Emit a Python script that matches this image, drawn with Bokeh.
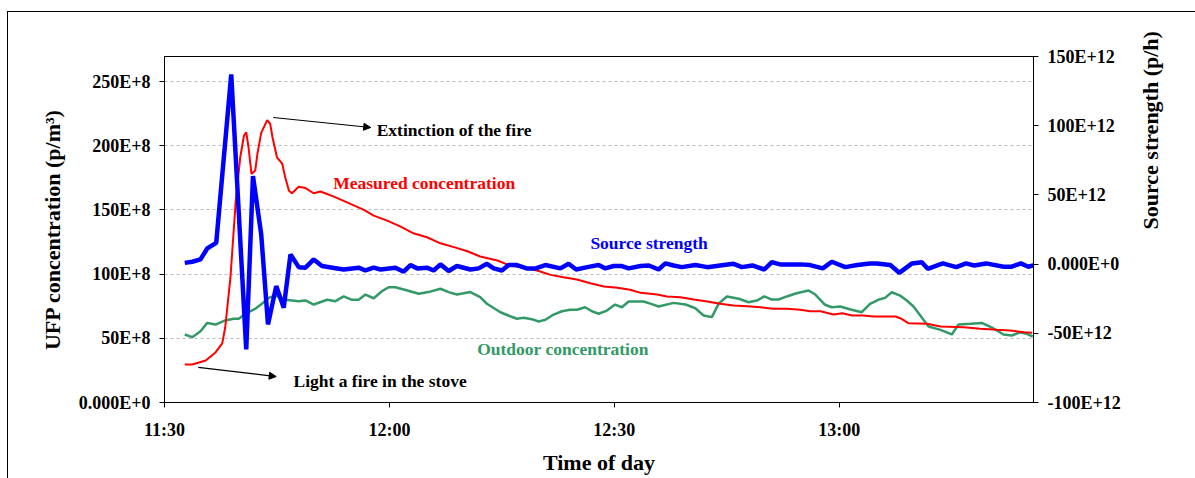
import math
from bokeh.plotting import figure
from bokeh.models import (Range1d, LinearAxis, FixedTicker, Label, Arrow,
                          NormalHead, InlineStyleSheet)
from bokeh.embed import file_html
from bokeh.resources import INLINE

FONT = "Liberation Serif"

# time in minutes after 11:30
measured_t = [2.7, 3.7, 5.5, 6.8, 7.7, 8.1, 8.8, 9.5, 10.1, 10.6, 10.9, 11.2, 11.6,
              12.1, 12.4, 12.9, 13.7, 14.1, 14.4, 15.0, 15.7, 16.1, 16.6, 17.0, 17.9,
              18.8, 19.9, 20.8, 22.6, 24.8, 26.6, 27.9, 29.7, 31.5, 33.2, 35.0, 36.8,
              38.6, 40.4, 42.1, 44.4, 46.1, 47.9, 49.7, 51.5, 53.2, 55.0, 56.8, 58.6,
              60.4, 62.1, 63.5, 65.7, 67.0, 68.8, 70.6, 72.4, 74.1, 75.9, 77.7, 79.5,
              81.2, 83.0, 84.8, 86.1, 87.5, 89.2, 90.4, 91.7, 93.2, 94.6, 97.5, 98.3,
              99.2, 101.7, 103.5, 106.6, 108.8, 111.0, 112.8, 114.6, 115.7]
# UFP measured concentration (E+8 p/m3)
measured_v = [29.6, 29.6, 32.7, 39.0, 46.0, 58.6, 97.6, 157.0, 191.0, 208.0, 210.5,
              199.0, 178.0, 180.7, 194.0, 210.0, 220.0, 217.0, 206.6, 191.0, 186.0,
              175.5, 165.0, 163.0, 168.0, 167.0, 163.0, 164.3, 160.4, 154.7, 150.0,
              145.6, 141.7, 137.0, 131.8, 128.7, 124.0, 121.0, 117.8, 113.7, 110.6,
              106.7, 105.0, 102.8, 99.4, 97.6, 95.8, 92.9, 90.3, 89.3, 87.8, 85.4,
              84.1, 82.6, 82.0, 80.2, 78.7, 76.9, 75.6, 75.0, 74.2, 73.0, 73.0, 72.2,
              71.1, 71.1, 68.5, 69.5, 67.8, 67.8, 67.0, 67.0, 65.2, 61.8, 61.3, 59.2,
              58.7, 57.4, 56.6, 56.0, 54.7, 54.3]

outdoor_t = [2.7, 3.7, 4.8, 5.7, 6.8, 8.1, 9.2, 9.9, 11.0, 12.1, 13.0, 13.9, 14.8,
             16.1, 17.9, 18.8, 19.9, 21.7, 22.8, 23.9, 25.0, 25.9, 26.8, 27.9, 29.0,
             29.9, 30.8, 32.4, 33.9, 35.2, 36.8, 37.9, 39.0, 40.8, 42.1, 43.0, 44.8,
             46.1, 47.0, 47.9, 49.0, 49.9, 50.8, 51.9, 53.0, 54.1, 55.0, 56.1, 57.0,
             57.9, 59.0, 60.1, 61.0, 61.9, 63.0, 63.9, 64.8, 65.9, 67.9, 69.5, 70.8,
             71.9, 73.0, 73.9, 75.0, 76.6, 77.9, 79.0, 80.0, 81.0, 81.9, 83.0, 84.3,
             85.9, 86.8, 88.1, 89.0, 90.1, 91.5, 93.0, 94.1, 95.2, 96.1, 97.0, 98.1,
             99.0, 99.9, 100.8, 101.9, 103.5, 105.0, 105.9, 107.5, 109.0, 110.3,
             111.9, 113.0, 114.1, 115.0, 115.8]
# UFP outdoor concentration (E+8 p/m3)
outdoor_v = [53.0, 50.9, 55.5, 62.0, 60.7, 63.9, 65.2, 65.2, 69.9, 73.0, 76.9, 81.5,
             83.3, 80.0, 78.9, 79.5, 76.3, 80.0, 78.9, 82.6, 80.0, 80.0, 84.1, 81.2,
             86.7, 89.8, 89.8, 87.2, 84.7, 86.0, 88.6, 86.0, 84.1, 86.0, 82.0, 76.9,
             70.3, 67.2, 65.2, 66.0, 64.9, 63.1, 64.4, 68.5, 71.1, 72.2, 72.2, 74.2,
             71.1, 69.1, 71.6, 76.3, 74.2, 78.7, 78.7, 78.7, 77.0, 74.8, 77.6, 76.3,
             73.4, 67.8, 66.5, 76.9, 82.6, 80.8, 78.1, 79.4, 82.6, 80.2, 80.2, 82.6,
             85.1, 87.2, 84.1, 76.1, 74.2, 74.8, 72.4, 70.3, 76.9, 80.0, 81.5, 85.9,
             83.3, 79.4, 74.8, 67.8, 59.2, 56.6, 53.0, 60.7, 61.3, 62.0, 58.6, 53.0,
             52.2, 54.7, 53.5, 51.4]

source_t = [2.7, 3.7, 4.8, 5.7, 6.9, 8.9, 10.9, 11.8, 12.9, 13.8, 14.9, 15.9, 16.8,
            17.9, 18.8, 19.9, 21.0, 22.4, 23.9, 25.9, 26.8, 27.9, 28.8, 30.8, 31.9,
            32.8, 33.7, 35.0, 35.9, 36.8, 37.9, 39.0, 40.8, 41.9, 43.0, 43.9, 45.0,
            45.9, 47.0, 48.3, 49.5, 50.8, 52.8, 53.9, 54.9, 56.4, 57.9, 58.8, 59.9,
            61.0, 61.9, 63.5, 64.6, 65.9, 66.8, 67.9, 69.0, 70.8, 72.4, 74.1, 75.9,
            77.0, 78.4, 80.0, 81.0, 82.1, 84.8, 86.1, 87.8, 89.0, 90.8, 92.4, 94.1,
            95.0, 96.8, 98.0, 99.7, 101.0, 101.8, 103.8, 105.6, 106.9, 108.0, 109.6,
            111.9, 113.0, 114.2, 115.2, 116.0]
# source strength (E+12 p/h)
source_v = [0.9, 1.7, 3.4, 11.3, 15.4, 137.0, -61.7, 63.6, 21.4, -43.6, -15.9, -31.5,
            7.0, -2.2, -2.6, 3.4, -1.4, -2.6, -3.9, -2.6, -4.6, -2.6, -3.9, -2.6, -5.5,
            -0.7, -3.1, -2.6, -4.6, -0.2, -5.0, -1.4, -3.9, -3.1, 0.2, -3.1, -4.6,
            -0.7, -0.7, -3.1, -3.1, -0.7, -3.1, 0.2, -3.9, -2.2, -0.7, -3.1, -1.4,
            -1.4, -3.1, -1.4, -1.0, -3.9, 0.5, -1.0, -2.2, -0.7, -2.2, -1.0, 0.2,
            -2.2, -1.0, -3.9, 1.4, -0.2, -0.2, -0.7, -3.1, 1.7, -2.2, -0.7, 0.5, 0.5,
            -0.7, -6.3, 0.5, 1.4, -3.4, 0.5, -2.2, 0.5, -1.0, 0.5, -1.9, -1.9, 0.5,
            -1.9, -0.7]

x_ticks = [0, 30, 60, 90]
x_labels = ["11:30", "12:00", "12:30", "13:00"]
left_ticks = [0, 50, 100, 150, 200, 250]
left_labels = ["0.000E+0", "50E+8", "100E+8", "150E+8", "200E+8", "250E+8"]
right_ticks = [-100, -50, 0, 50, 100, 150]
right_labels = ["-100E+12", "-50E+12", "0.000E+0", "50E+12", "100E+12", "150E+12"]

RED = "#FF0000"
BLUE = "#0000FF"
GREEN = "#339966"

p = figure(width=1195, height=478, output_backend="svg", toolbar_location=None,
           x_range=Range1d(0, 115.9), y_range=Range1d(0, 269.5),
           min_border_left=164, min_border_right=162, min_border_top=56,
           min_border_bottom=76, background_fill_color="white",
           border_fill_color="white")
p.extra_y_ranges = {"src": Range1d(-100, 150)}
p.outline_line_color = "black"
p.outline_line_alpha = 1.0
p.outline_line_width = 1

# outer chart border (only its top and left edges fall inside the view)
p.stylesheets = [InlineStyleSheet(css="""
:host { position: relative; }
:host::after {
  content: ""; position: absolute; left: 7px; top: 11px; right: 0; bottom: 0;
  border-top: 1.5px solid black; border-left: 1.5px solid black;
  pointer-events: none; z-index: 10;
}
""")]

def style_axis(ax, ticks, labels, title, standoff, title_standoff):
    ax.ticker = FixedTicker(ticks=ticks)
    ax.major_label_overrides = {t: l for t, l in zip(ticks, labels)}
    ax.axis_label = title
    ax.axis_label_text_font = FONT
    ax.axis_label_text_font_style = "bold"
    ax.axis_label_text_font_size = "22px"
    ax.axis_label_text_color = "black"
    ax.axis_label_standoff = title_standoff
    ax.major_label_text_font = FONT
    ax.major_label_text_font_style = "bold"
    ax.major_label_text_font_size = "18px"
    ax.major_label_text_color = "black"
    ax.major_label_standoff = standoff
    ax.axis_line_color = "black"
    ax.axis_line_width = 1
    ax.major_tick_line_color = "black"
    ax.major_tick_in = 0
    ax.major_tick_out = 5
    ax.minor_tick_line_color = None

style_axis(p.xaxis[0], x_ticks, x_labels, "Time of day", 12, 7)
style_axis(p.yaxis[0], left_ticks, left_labels, "UFP concentration (p/m³)", 9, 11)

raxis = LinearAxis(y_range_name="src")
style_axis(raxis, right_ticks, right_labels, "Source strength (p/h)", 9, 27)
raxis.axis_label_orientation = math.pi / 2
p.add_layout(raxis, "right")

p.xgrid.visible = False
p.ygrid.ticker = FixedTicker(ticks=left_ticks[1:])
p.ygrid.grid_line_color = "#BBBBBB"
p.ygrid.grid_line_dash = "3 3"
p.ygrid.grid_line_width = 1

p.line(outdoor_t, outdoor_v, line_color=GREEN, line_width=2.5)
p.line(measured_t, measured_v, line_color=RED, line_width=2)
p.line(source_t, source_v, line_color=BLUE, line_width=4.5, y_range_name="src")

def add_label(x, y, text, color):
    p.add_layout(Label(x=x, y=y, text=text, text_font=FONT,
                       text_font_style="bold", text_font_size="17.5px",
                       text_color=color, text_baseline="middle", text_align="left"))

add_label(28.3, 212.6, "Extinction of the fire", "black")
add_label(17.2, 17.1, "Light a fire in the stove", "black")
add_label(22.5, 171.3, "Measured concentration", RED)
add_label(56.8, 124.6, "Source strength", BLUE)
add_label(41.7, 41.3, "Outdoor concentration", GREEN)

for xs, ys, xe, ye in [(14.5, 222.0, 27.5, 214.2), (4.5, 27.3, 14.9, 20.2)]:
    p.add_layout(Arrow(end=NormalHead(size=7, fill_color="black", line_color="black",
                                      line_width=1),
                       x_start=xs, y_start=ys, x_end=xe, y_end=ye,
                       line_color="black", line_width=1.2))

open("out.html", "w").write(file_html(p, INLINE))
